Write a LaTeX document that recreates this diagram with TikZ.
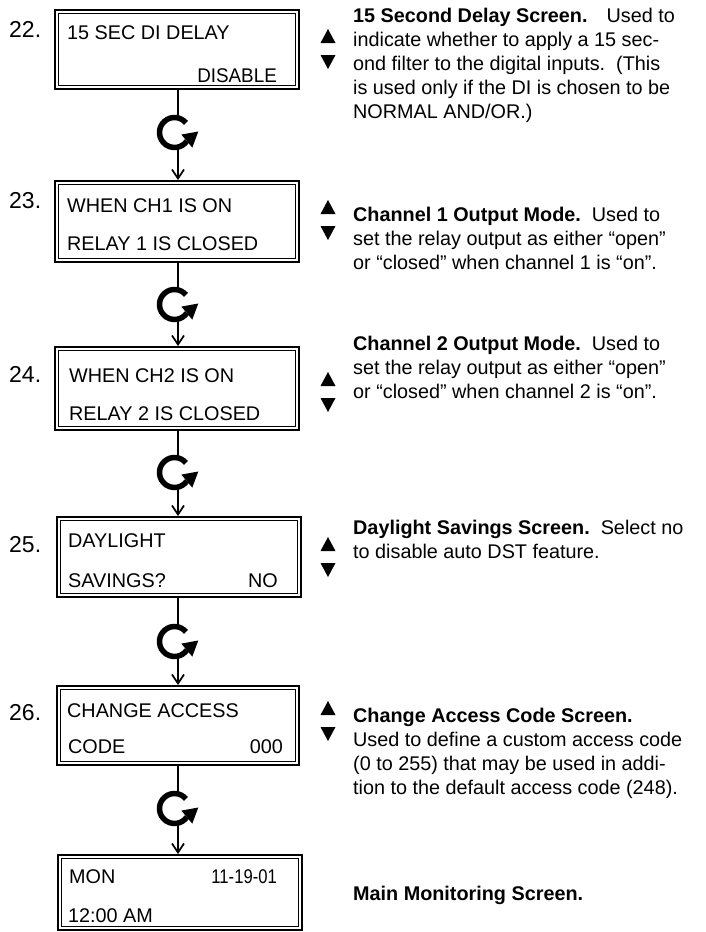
\documentclass[tikz,border=0pt]{standalone}
\usepackage{fontspec}
\setmainfont{Liberation Sans}
\usepackage{graphicx}
\usetikzlibrary{arrows.meta}
\tikzset{
  lcd/.style={draw, line width=2pt, inner sep=0pt, minimum width=244pt},
  lcdtxt/.style={inner sep=0pt, font=\fontsize{19.8}{24}\selectfont},
  numlab/.style={inner sep=0pt, anchor=base west, font=\fontsize{23}{27}\selectfont},
  desc/.style={inner sep=0pt, anchor=north west, align=left, font=\fontsize{19.8}{24}\selectfont},
  stemline/.style={line width=2.6pt},
  feedline/.style={line width=1.7pt, -{Straight Barb[length=9pt,width=12pt]}},
  rotsign/.pic={
    \draw[line width=5.5pt] (-40:15) arc[start angle=-40, end angle=-325, radius=15];
    \fill (23.8,-1.0) -- (17.8,15.1) -- (6.8,2.1) -- cycle;
  },
  updown/.pic={
    \fill (-7.5,7) -- (7.5,7) -- (0,-7) -- cycle;
    \fill (-7.5,19) -- (7.5,19) -- (0,33) -- cycle;
  }
}
\begin{document}
\begin{tikzpicture}[x=1pt,y=-1pt]
\useasboundingbox (0,0) rectangle (705,932);

% screens
\node[lcd, minimum height=79pt] (b22) at (177,49.5) {};
\node[lcd, minimum height=81pt] (b23) at (177,221.5) {};
\node[lcd, minimum height=83pt] (b24) at (177,388.5) {};
\node[lcd, minimum height=80pt] (b25) at (179,557) {};
\node[lcd, minimum height=79pt, minimum width=242pt] (b26) at (178,725.5) {};
\node[lcd, minimum height=75pt] (b27) at (180,892.5) {};
\foreach \b in {b22,b23,b24,b25,b26,b27}
  \draw[line width=1.3pt] ([xshift=4.5pt,yshift=-4.5pt]\b.north west) rectangle ([xshift=-4.5pt,yshift=4.5pt]\b.south east);

% step numbers
\node[numlab] (n22) at (9,37) {22.};
\node[numlab] (n23) at (9,208) {23.};
\node[numlab] (n24) at (9,382) {24.};
\node[numlab] (n25) at (9,552) {25.};
\node[numlab] (n26) at (9,720) {26.};

% screen texts
\node[lcdtxt, anchor=base west] (s22a) at (67,39) {15 SEC DI DELAY};
\node[lcdtxt, anchor=base east] (s22b) at (277,82) {\scalebox{0.95}[1]{DISABLE}};
\node[lcdtxt, anchor=base west] (s23a) at (67,212) {WHEN CH1 IS ON};
\node[lcdtxt, anchor=base west] (s23b) at (67,250) {RELAY 1 IS CLOSED};
\node[lcdtxt, anchor=base west] (s24a) at (69,382) {WHEN CH2 IS ON};
\node[lcdtxt, anchor=base west] (s24b) at (69,420) {RELAY 2 IS CLOSED};
\node[lcdtxt, anchor=base west] (s25a) at (68,547) {DAYLIGHT};
\node[lcdtxt, anchor=base west] (s25b) at (68,587) {SAVINGS?};
\node[lcdtxt, anchor=base east] (s25c) at (278,587) {NO};
\node[lcdtxt, anchor=base west] (s26a) at (67,717) {CHANGE ACCESS};
\node[lcdtxt, anchor=base west] (s26b) at (68,753) {CODE};
\node[lcdtxt, anchor=base east] (s26c) at (283,753) {000};
\node[lcdtxt, anchor=base west] (s27a) at (69,883) {MON};
\node[lcdtxt, anchor=base east] (s27b) at (277,883) {\scalebox{0.84}[1]{11-19-01}};
\node[lcdtxt, anchor=base west] (s27c) at (68,922) {12:00 AM};

% connectors with rotate icons
\foreach \i/\cy/\up/\dn in {1/132.5/b22/b23, 2/304.5/b23/b24, 3/472.5/b24/b25, 4/641.5/b25/b26, 5/808.5/b26/b27}{
  \coordinate (rc\i) at (174.5,\cy);
  \coordinate (ra\i) at (178,\cy-14);
  \coordinate (rb\i) at (178,\cy+14);
  \pic at (rc\i) {rotsign};
  \draw[stemline] (ra\i |- \up.south) -- (ra\i);
  \draw[feedline] (rb\i) -- (rb\i |- \dn.north);
}

% up/down keys
\pic at (328,36) {updown};
\pic at (328,207) {updown};
\pic at (328,379) {updown};
\pic at (328,544) {updown};
\pic at (328,708) {updown};

% descriptions
\node[desc] (d22) at (353,22-16.8) {\strut\textbf{15 Second Delay Screen.}\hspace{19pt}Used to\\
indicate whether to apply a 15 sec-\\
ond filter to the digital inputs.\ \ (This\\
is used only if the DI is chosen to be\\
NORMAL AND/OR.)};
\node[desc] (d23) at (353,221-16.8) {\strut\textbf{Channel 1 Output Mode.}\ \ Used to\\
set the relay output as either “open”\\
or “closed” when channel 1 is “on”.};
\node[desc] (d24) at (353,350-16.8) {\strut\textbf{Channel 2 Output Mode.}\ \ Used to\\
set the relay output as either “open”\\
or “closed” when channel 2 is “on”.};
\node[desc] (d25) at (353,534-16.8) {\strut\textbf{Daylight Savings Screen.}\ \ Select no\\
to disable auto DST feature.};
\node[desc] (d26) at (353,722-16.8) {\strut\textbf{Change Access Code Screen.}\\
Used to define a custom access code\\
(0 to 255) that may be used in addi-\\
tion to the default access code (248).};
\node[desc] (d27) at (353,900-16.8) {\strut\textbf{Main Monitoring Screen.}};
\end{tikzpicture}
\end{document}
